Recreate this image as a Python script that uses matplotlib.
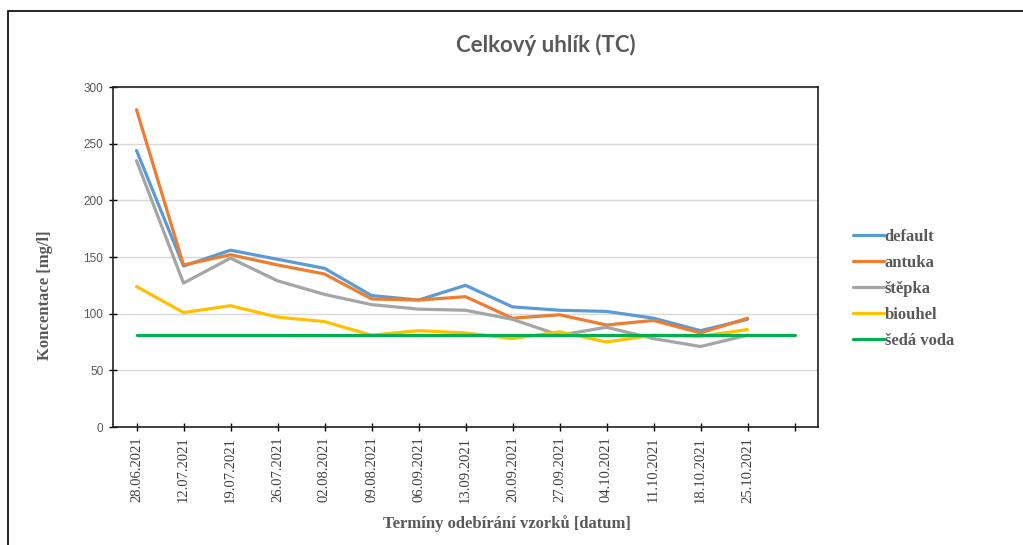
import matplotlib.pyplot as plt
import matplotlib.patches as mpatches
import numpy as np

dates = ['28.06.2021', '12.07.2021', '19.07.2021', '26.07.2021', '02.08.2021',
         '09.08.2021', '06.09.2021', '13.09.2021', '20.09.2021', '27.09.2021',
         '04.10.2021', '11.10.2021', '18.10.2021', '25.10.2021', '']
default = [244, 142, 156, 148, 140, 116, 112, 125, 106, 103, 102, 96, 85, 95]
antuka = [280, 143, 152, 143, 135, 113, 112, 115, 96, 99, 90, 94, 83, 96]
stepka = [235, 127, 149, 129, 117, 108, 104, 103, 95, 81, 88, 78, 71, 81]
biouhel = [124, 101, 107, 97, 93, 81, 85, 83, 78, 84, 75, 81, 80, 86]
seda_voda = [81] * 15

series = [('default', default, '#5B9BD5'),
          ('antuka', antuka, '#ED7D31'),
          ('štěpka', stepka, '#A5A5A5'),
          ('biouhel', biouhel, '#FFC000'),
          ('šedá voda', seda_voda, '#00B050')]

fig = plt.figure(figsize=(10.23, 5.45), dpi=100)
ax = fig.add_axes([113 / 1023, 1 - 427 / 545, 705 / 1023, 340 / 545])

# outer frame of the chart
fig.patches.append(mpatches.Rectangle((8 / 1023, -0.1), 1.1, 1 - 11 / 545 + 0.1,
                                      transform=fig.transFigure, fill=False,
                                      edgecolor='black', linewidth=1.2))

for name, vals, col in series:
    ax.plot(np.arange(len(vals)), vals, color=col, linewidth=2.3, label=name,
            solid_capstyle='round')

ax.set_xlim(-0.5, 14.5)
ax.set_ylim(0, 300)
ax.set_yticks(np.arange(0, 301, 50))
ax.set_xticks(np.arange(len(dates)))
ax.set_xticklabels(dates, rotation=90, fontfamily='Liberation Serif',
                   fontsize=10.5, color='#404040')
ax.tick_params(axis='y', direction='inout', length=6, width=1, labelsize=8.5,
               labelcolor='#595959', pad=4)
ax.tick_params(axis='x', direction='inout', length=6, width=1, pad=4)
for t in ax.get_yticklabels():
    t.set_fontfamily('Liberation Sans')
ax.grid(axis='y', color='#D9D9D9', linewidth=1)
ax.set_axisbelow(True)
for s in ax.spines.values():
    s.set_color('#202020')
    s.set_linewidth(1.2)

fig.text(546 / 1023, 1 - 45 / 545, 'Celkový uhlík (TC)', ha='center', va='center',
         fontsize=16, fontweight='bold', color='#595959', fontfamily='Lato')
fig.text(45 / 1023, 1 - 295 / 545, 'Koncentace [mg/l]', rotation=90, ha='center',
         va='center', fontsize=12, fontweight='bold', color='#595959',
         fontfamily='Liberation Serif')
fig.text(507 / 1023, 1 - 524 / 545, 'Termíny odebírání vzorků [datum]', ha='center',
         va='center', fontsize=12, fontweight='bold', color='#595959',
         fontfamily='Liberation Serif')

leg = fig.legend(loc='upper left', bbox_to_anchor=(838 / 1023, 1 - 214 / 545),
                 frameon=False, handlelength=1.85, handletextpad=0.05,
                 labelspacing=0.6, prop={'family': 'Liberation Serif',
                                         'weight': 'bold', 'size': 12})
for t in leg.get_texts():
    t.set_color('#595959')

fig.savefig('out.png', dpi=100)
